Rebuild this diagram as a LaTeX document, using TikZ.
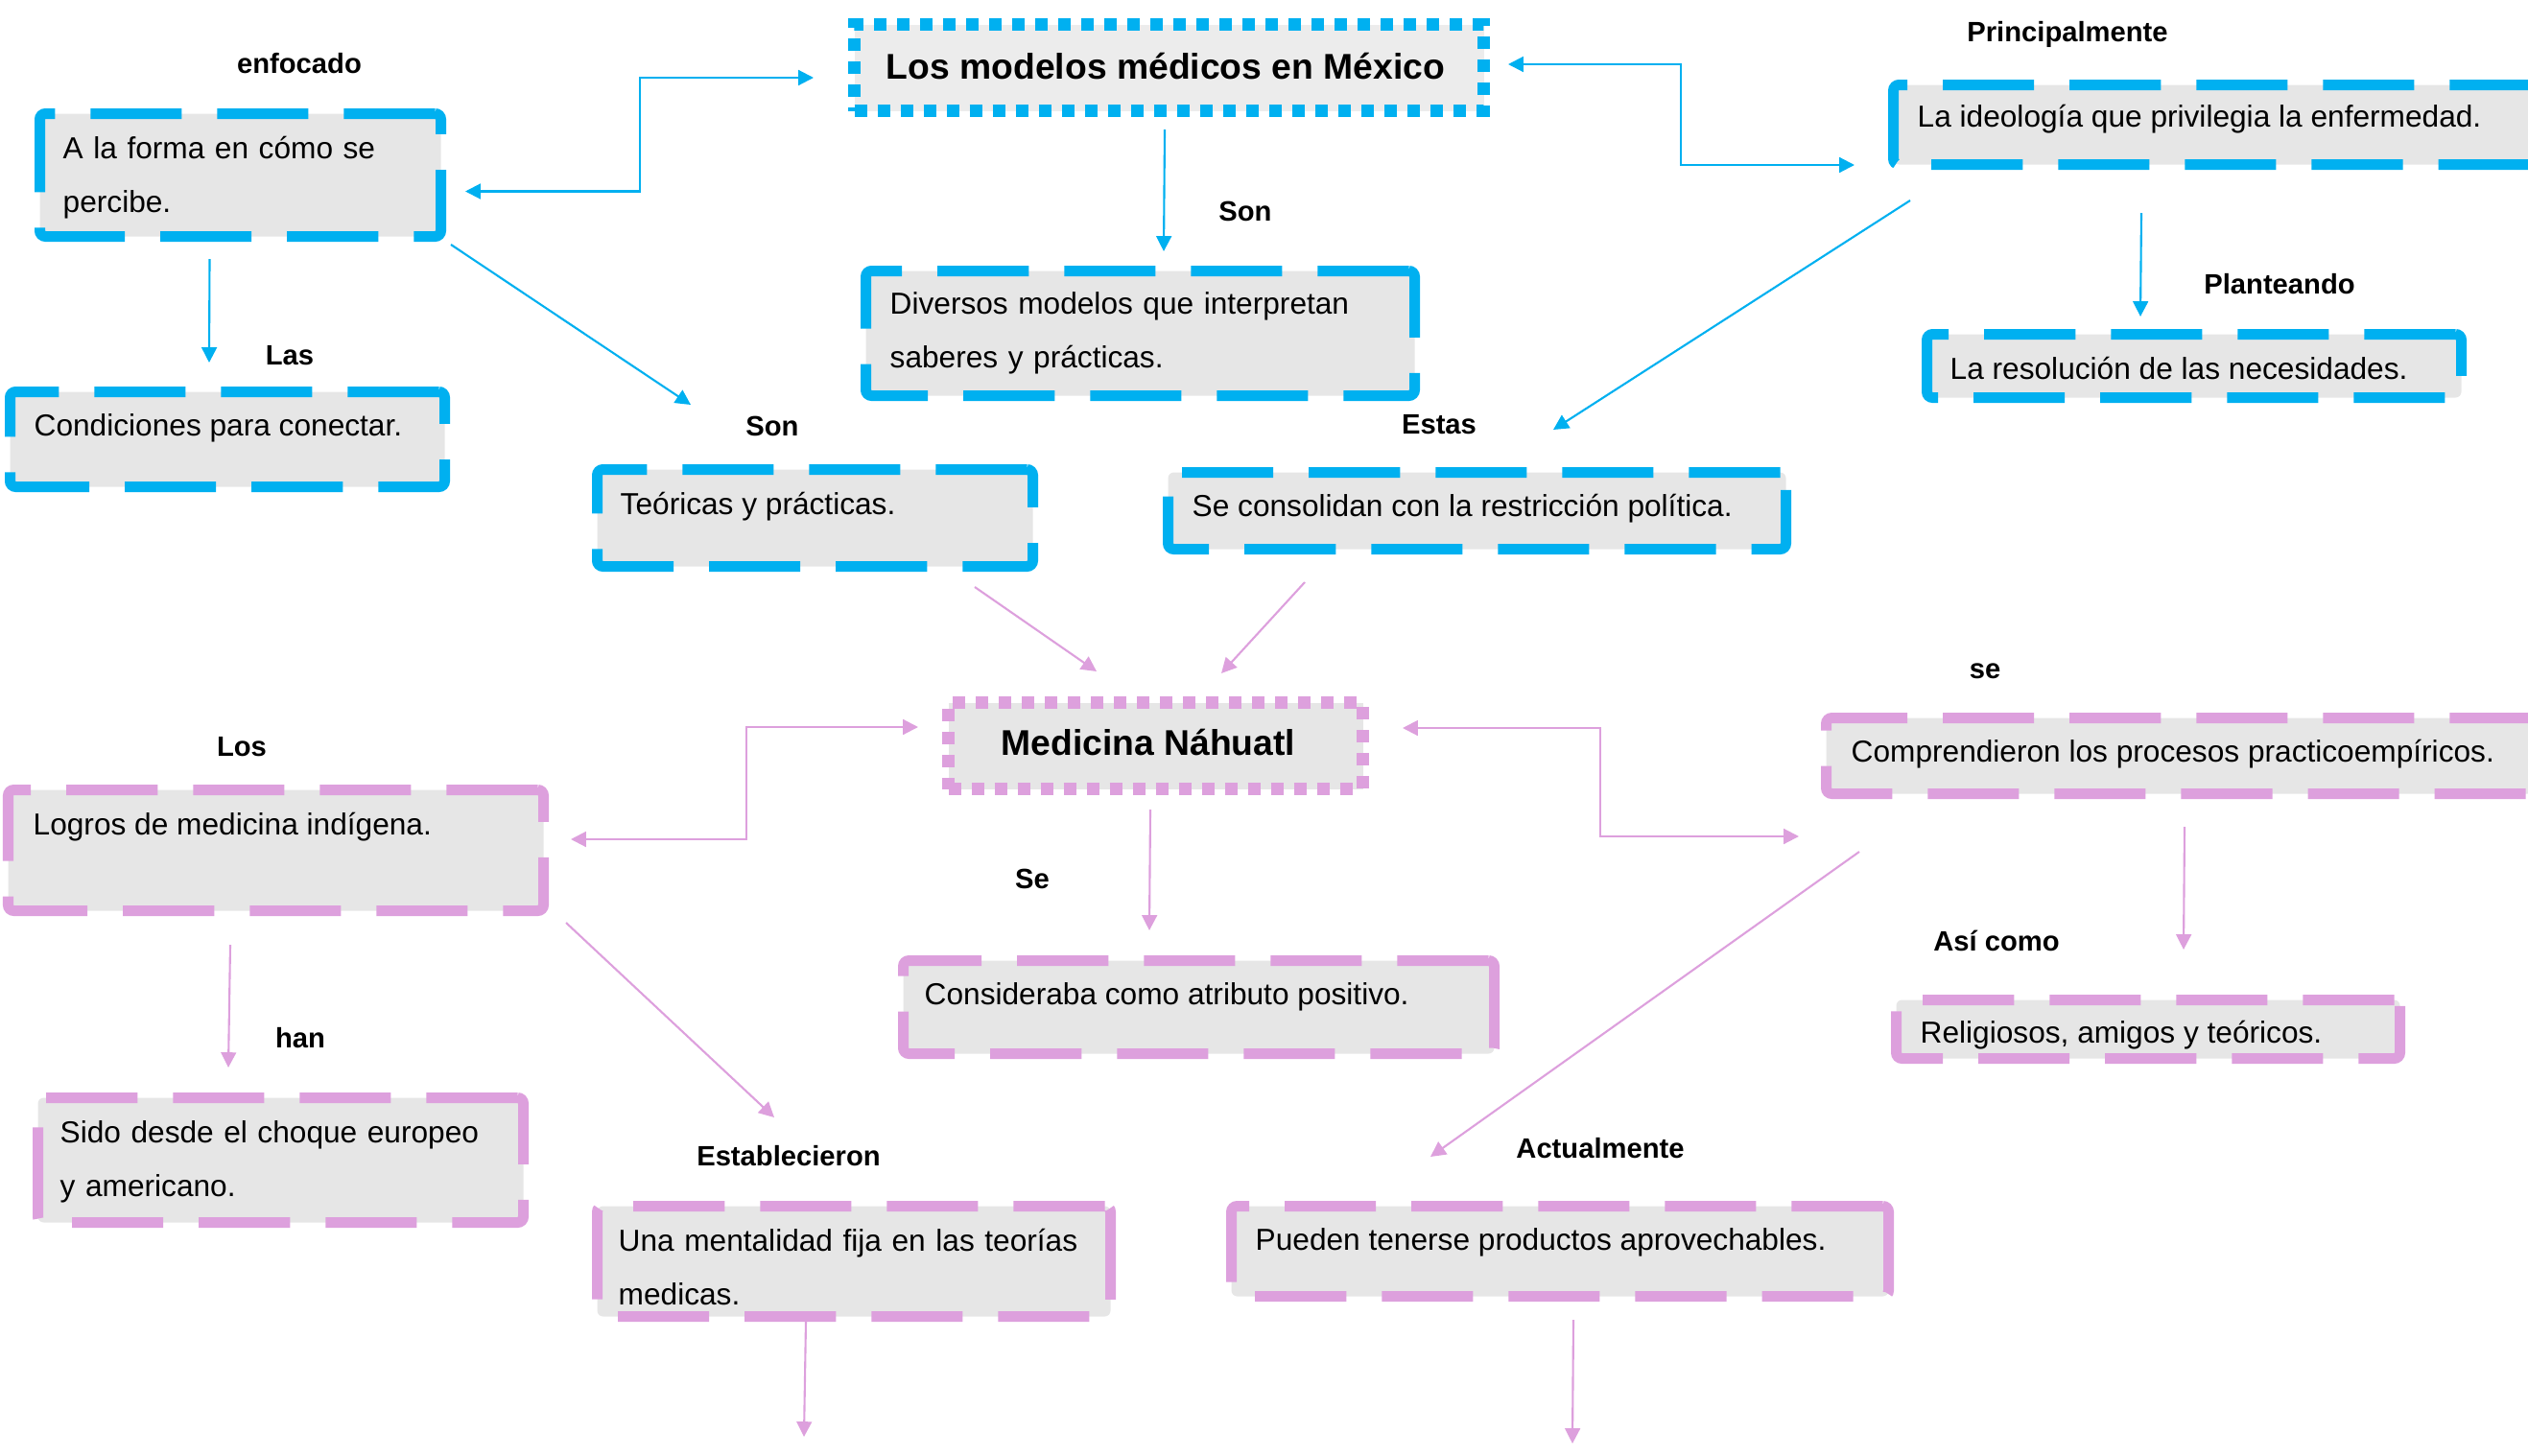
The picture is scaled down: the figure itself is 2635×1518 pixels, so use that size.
\documentclass[tikz,border=0pt]{standalone}
\usepackage{fontspec}
\setmainfont{Liberation Sans}
\usetikzlibrary{arrows.meta,calc}
\definecolor{cblue}{RGB}{0,176,240}
\definecolor{cpink}{RGB}{221,160,221}
\definecolor{fillg}{RGB}{230,230,230}
\definecolor{fillt}{RGB}{236,236,236}
\newcommand\cbox[6]{\node[#2, anchor=north west, minimum width={(#5-#3-11)*0.01cm}, minimum height={(#6-#4-11)*0.01cm}] (#1) at (#3,#4) {};}
\begin{document}
\begin{tikzpicture}[x=0.01cm,y=-0.01cm,
  bluebox/.style={draw=cblue, fill=fillg, line width=0.11cm, dash pattern=on 0.95cm off 0.37cm, rounded corners=0.06cm, inner sep=0pt},
  pinkbox/.style={draw=cpink, fill=fillg, line width=0.11cm, dash pattern=on 0.95cm off 0.37cm, rounded corners=0.06cm, inner sep=0pt},
  bluedot/.style={draw=cblue, fill=fillt, line width=0.13cm, dash pattern=on 0.13cm off 0.11cm, inner sep=0pt},
  pinkdot/.style={draw=cpink, fill=fillg, line width=0.13cm, dash pattern=on 0.13cm off 0.11cm, inner sep=0pt},
  txt/.style={font=\fontsize{9pt}{16pt}\selectfont, inner sep=0pt, anchor=base west},
  mtxt/.style={txt, text width=6cm, align=left},
  lbl/.style={font=\bfseries\fontsize{8.3pt}{10pt}\selectfont, inner sep=0pt, anchor=base},
  ttl/.style={font=\bfseries\fontsize{10.6pt}{12pt}\selectfont, inner sep=0pt, anchor=base},
  barr/.style={draw=cblue, line width=0.6pt, -{Triangle[length=4.5pt,width=4.5pt]}},
  parr/.style={draw=cpink, line width=0.6pt, -{Triangle[length=4.5pt,width=4.5pt]}},
  barrb/.style={draw=cblue, line width=0.6pt, {Triangle[length=4.5pt,width=4.5pt]}-{Triangle[length=4.5pt,width=4.5pt]}},
  parrb/.style={draw=cpink, line width=0.6pt, {Triangle[length=4.5pt,width=4.5pt]}-{Triangle[length=4.5pt,width=4.5pt]}}
]
\useasboundingbox (0,0) rectangle (2635,1518);

% boxes
\cbox{title}{bluedot}{884}{19}{1551}{120}
\cbox{b2}{bluebox}{36}{113}{465}{252}
\cbox{b3}{bluebox}{5}{403}{469}{513}
\cbox{b4}{bluebox}{897}{277}{1480}{418}
\cbox{b5}{bluebox}{617}{484}{1082}{596}
\cbox{b6}{bluebox}{1212}{487}{1867}{578}
\cbox{b7}{bluebox}{1968}{83}{2660}{177}
\cbox{b8}{bluebox}{2003}{343}{2571}{420}
\cbox{nah}{pinkdot}{982}{726}{1425}{827}
\cbox{b10}{pinkbox}{3}{818}{572}{955}
\cbox{b11}{pinkbox}{34}{1139}{551}{1280}
\cbox{b12}{pinkbox}{936}{996}{1563}{1104}
\cbox{b13}{pinkbox}{617}{1252}{1163}{1378}
\cbox{b14}{pinkbox}{1278}{1252}{1974}{1357}
\cbox{b15}{pinkbox}{1898}{743}{2660}{833}
\cbox{b16}{pinkbox}{1971}{1037}{2507}{1109}

% texts
\node[ttl] (tt) at (1215,83) {Los modelos médicos en México};
\node[mtxt] (t2) at (65,165) {A la forma en cómo se\\percibe.};
\node[txt] (t3) at (35,454) {Condiciones para conectar.};
\node[mtxt] (t4) at (927,327) {\makebox[5.12cm][s]{Diversos modelos que interpretan}\\saberes y prácticas.};
\node[txt] (t5) at (646,536) {Teóricas y prácticas.};
\node[txt] (t6) at (1242,538) {Se consolidan con la restricción política.};
\node[txt] (t7) at (1998,133) {La ideología que privilegia la enfermedad.};
\node[txt] (t8) at (2032,395) {La resolución de las necesidades.};
\node[ttl] (tn) at (1197,787) {Medicina Náhuatl};
\node[txt] (t10) at (34,870) {Logros de medicina indígena.};
\node[mtxt] (t11) at (62,1191) {Sido desde el choque europeo\\y americano.};
\node[txt] (t12) at (963,1047) {Consideraba como atributo positivo.};
\node[mtxt] (t13) at (644,1304) {Una mentalidad fija en las teorías\\medicas.};
\node[txt] (t14) at (1308,1303) {Pueden tenerse productos aprovechables.};
\node[txt] (t15) at (1929,794) {Comprendieron los procesos practicoempíricos.};
\node[txt] (t16) at (2001,1087) {Religiosos, amigos y teóricos.};

% labels
\node[lbl] (l1) at (312,77) {enfocado};
\node[lbl] (l2) at (302,380) {Las};
\node[lbl] (l3) at (1298,230) {Son};
\node[lbl] (l4) at (805,454) {Son};
\node[lbl] (l5) at (1500,452) {Estas};
\node[lbl] (l6) at (2155,43) {Principalmente};
\node[lbl] (l7) at (2376,306) {Planteando};
\node[lbl] (l8) at (252,788) {Los};
\node[lbl] (l9) at (313,1092) {han};
\node[lbl] (l10) at (1076,926) {Se};
\node[lbl] (l11) at (822,1215) {Establecieron};
\node[lbl] (l12) at (2069,707) {se};
\node[lbl] (l13) at (2081,991) {Así como};
\node[lbl] (l14) at (1668,1207) {Actualmente};

% free ends
\coordinate (f1) at (838,1498);
\coordinate (f2) at (1639,1505);

% blue connectors
\draw[barrb] ($(b2.east)+(20,17)$) -| ($(title.west)+(-217,10.5)$) -- ($(title.west)+(-36,10.5)$);
\draw[barrb] ($(title.east)+(19,-3.5)$) -| ($(b7.west)+(-216,42)$) -- ($(b7.west)+(-35,42)$);
\draw[barr] ($(title.south)+(-4.5,13)$) -- ($(b4.north)+(24.5,-15)$);
\draw[barr] ($(b2.south)+(-32,18)$) -- ($(b3.north)+(-19,-25)$);
\draw[barr] ($(b2.south east)+(5,3)$) -- ($(b5.north)+(-129.5,-62)$);
\draw[barr] ($(b7.south west)+(23,32)$) -- ($(b6.north)+(79.5,-39)$);
\draw[barr] ($(b7.south west)+(264,45)$) -- ($(b8.north)+(-56,-13)$);

% pink connectors
\draw[parr] ($(b5.south)+(166.5,16)$) -- ($(nah.north west)+(161,-26)$);
\draw[parr] ($(b6.south)+(-179.5,29)$) -- ($(nah.north)+(68.5,-24)$);
\draw[parrb] ($(b10.east)+(23,-11.5)$) -| ($(nah.west)+(-204,-19.5)$) -- ($(nah.west)+(-25,-19.5)$);
\draw[parrb] ($(nah.east)+(35,-18.5)$) -| ($(b15.west)+(-230,84)$) -- ($(b15.west)+(-23,84)$);
\draw[parr] ($(nah.south)+(-5.5,15)$) -- ($(b12.north)+(-51.5,-26)$);
\draw[parr] ($(b10.south)+(-47.5,30)$) -- ($(b11.north)+(-54.5,-26)$);
\draw[parr] ($(b10.south east)+(18,7)$) -- ($(b13.north)+(-83,-87)$);
\draw[parr] ($(b15.south west)+(40,55)$) -- ($(b14.north)+(-135,-46)$);
\draw[parr] ($(b15.south west)+(379,29)$) -- ($(b16.north)+(37,-47)$);
\draw[parr] ($(b13.south)+(-50,-1)$) -- (f1);
\draw[parr] ($(b14.south)+(14,19)$) -- (f2);
\end{tikzpicture}
\end{document}
